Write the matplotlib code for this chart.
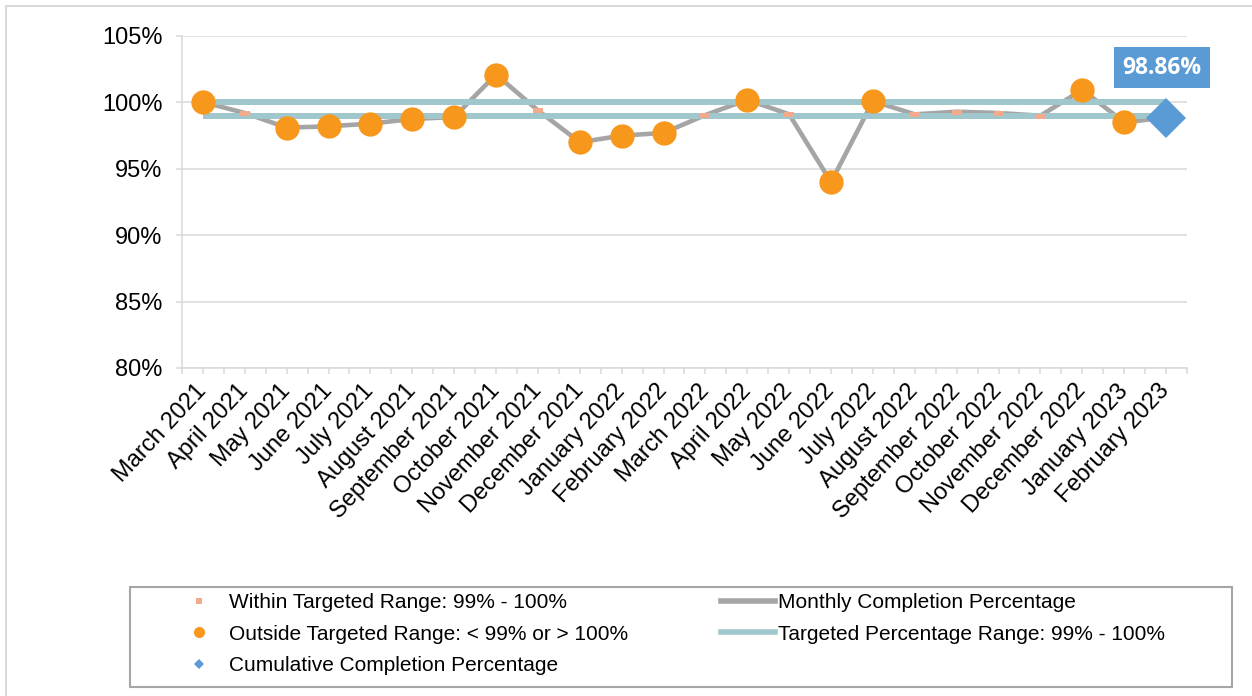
import numpy as np
import matplotlib.pyplot as plt
from matplotlib.lines import Line2D
from matplotlib.patches import Rectangle
from matplotlib.ticker import FixedLocator, FuncFormatter

months = [
    "March 2021", "April 2021", "May 2021", "June 2021", "July 2021",
    "August 2021", "September 2021", "October 2021", "November 2021",
    "December 2021", "January 2022", "February 2022", "March 2022",
    "April 2022", "May 2022", "June 2022", "July 2022", "August 2022",
    "September 2022", "October 2022", "November 2022", "December 2022",
    "January 2023", "February 2023",
]
monthly_pct = [
    100.03, 99.2, 98.1, 98.2, 98.4, 98.75, 98.9, 102.1, 99.4, 97.0, 97.5, 97.7,
    99.05, 100.2, 99.1, 94.0, 100.1, 99.1, 99.3, 99.2, 99.0, 100.95, 98.5, 98.86,
]
target_low = 99.0
target_high = 100.0
cumulative_pct = 98.86

GRAY = "#A5A5A5"
TEAL = "#A0C7CC"
ORANGE = "#F7981D"
SALMON = "#F2AA8A"
BLUE = "#5B9BD5"
GRID = "#D9D9D9"

plt.rcParams["font.family"] = ["Liberation Sans", "DejaVu Sans"]

x = np.arange(len(months))
y = np.array(monthly_pct)
inside = (y >= target_low) & (y <= target_high)
y_in = np.where(inside, y, np.nan)
y_out = np.where(inside, np.nan, y)

# wide flat dash for the in-range marker
dash = [(-1, -0.5), (1, -0.5), (1, 0.5), (-1, 0.5), (-1, -0.5)]

fig = plt.figure(figsize=(12.52, 6.96), dpi=100)
ax = fig.add_axes([182 / 1252, 1 - 368 / 696, (1187 - 182) / 1252, (368 - 36) / 696])

ax.plot(x, y, color=GRAY, lw=3.3, zorder=2, solid_capstyle="butt")
ax.plot([x[0], x[-1]], [target_high] * 2, color=TEAL, lw=4.3, zorder=3, solid_capstyle="butt")
ax.plot([x[0], x[-1]], [target_low] * 2, color=TEAL, lw=4.3, zorder=3, solid_capstyle="butt")
ax.plot(x, y_in, ls="none", marker=dash, ms=7.2, color=SALMON, mew=0, zorder=4)
ax.plot(x, y_out, ls="none", marker="o", ms=17.5, color=ORANGE, mew=0, zorder=5)
ax.plot([x[-1]], [cumulative_pct], ls="none", marker="D", ms=20, color=BLUE, mew=0, zorder=6)

ax.annotate(f"{cumulative_pct:.2f}%", xy=(x[-1], cumulative_pct), xytext=(-3, 36),
            textcoords="offset points", ha="center", va="center",
            fontsize=16.5, fontweight="bold", family=["Open Sans", "DejaVu Sans"], color="white",
            bbox=dict(boxstyle="square,pad=0.36", fc=BLUE, ec="none"), zorder=7)

ax.set_xlim(-0.5, len(months) - 0.5)
ax.set_ylim(80, 105)
ax.set_yticks(np.arange(80, 106, 5))
ax.yaxis.set_major_formatter(FuncFormatter(lambda v, _: f"{v:.0f}%"))
ax.grid(axis="y", color=GRID, lw=1.1)
ax.set_axisbelow(True)

ax.set_xticks(x)
ax.set_xticklabels(months, rotation=47, ha="right", va="center", rotation_mode="anchor")
ax.xaxis.set_minor_locator(FixedLocator(np.arange(-0.5, len(months), 1)))
ax.tick_params(axis="x", which="both", length=4, color=GRID, width=1.1, labelsize=17, pad=10)
ax.tick_params(axis="y", length=4, color=GRID, width=1.1, labelsize=17, pad=10)

for side in ("top", "right"):
    ax.spines[side].set_visible(False)
for side in ("left", "bottom"):
    ax.spines[side].set_color(GRID)
    ax.spines[side].set_linewidth(1.1)

handles = [
    Line2D([], [], ls="none", marker="s", ms=4, color=SALMON, mew=0),
    Line2D([], [], ls="none", marker="o", ms=8, color=ORANGE, mew=0),
    Line2D([], [], ls="none", marker="D", ms=5, color=BLUE, mew=0),
    Line2D([], [], color=GRAY, lw=4),
    Line2D([], [], color=TEAL, lw=4),
]
labels = [
    "Within Targeted Range: 99% - 100%",
    "Outside Targeted Range: < 99% or > 100%",
    "Cumulative Completion Percentage",
    "Monthly Completion Percentage",
    "Targeted Percentage Range: 99% - 100%",
]
fig.legend(handles, labels, loc="upper left", bbox_to_anchor=(172 / 1252, 1 - 593 / 696),
           ncol=2, frameon=False, fontsize=15, handlelength=2.6, handletextpad=0.15,
           borderpad=0, borderaxespad=0, labelspacing=0.6, columnspacing=4.45)

fig.patches.append(Rectangle((130 / 1252, 1 - 687 / 696), (1232 - 130) / 1252, 100 / 696,
                             transform=fig.transFigure, fill=False, ec="#A6A6A6", lw=1.5))
fig.patches.append(Rectangle((6 / 1252, -0.1), 1.2, 1.1 - 6 / 696,
                             transform=fig.transFigure, fill=False, ec=GRID, lw=1.5))

fig.savefig("out.png", dpi=100, facecolor="white")
